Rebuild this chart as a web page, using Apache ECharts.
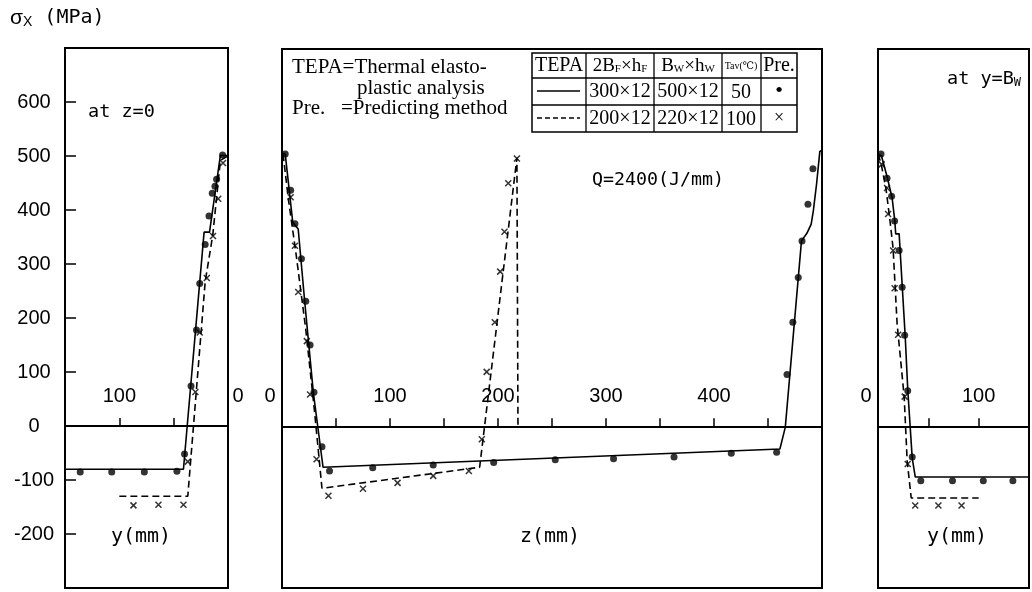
<!DOCTYPE html>
<html>
<head>
<meta charset="utf-8">
<script src="https://cdn.jsdelivr.net/npm/echarts@6/dist/echarts.min.js"></script>
<style>
html,body{margin:0;padding:0;background:#fff;}
#chart{width:1032px;height:592px;}
</style>
</head>
<body>
<div id="chart"></div>
<script>
// left panel: at z=0, y(mm) reversed
var leftTepa1 = [[150,-80],[41,-80],[22,359],[17,359],[7,501],[0,501]];
var leftTepa2 = [[100,-130],[37,-130],[21,267],[14,354],[7,492],[0,500]];
var leftPre1 = [[136,-85],[107,-85],[77,-85],[47,-84],[40,-52],[34,74],[29,178],[26,264],[21,336],[17.5,389],[14.5,431],[12,444],[10.5,457],[5,502]];
var leftPre2 = [[87,-147],[64,-146],[41,-146],[37,-66],[30,63],[26,173],[19.5,274],[13.8,352],[9,421],[4.6,487]];

// middle panel: z(mm)
var midTepa1 = [[0,507],[3,505],[10,378],[15,366],[21,232],[29,63],[38,-76],[461,-42],[466,-2],[481,344],[486,358],[490,375],[492,400],[495,450],[498,510],[500,512]];
var midTepa2 = [[1,505],[6,420],[13,320],[22,180],[30,30],[37,-115],[183,-76],[217.5,498],[218.5,498],[218.5,0]];
var midPre1 = [[3,505],[8,438],[12,376],[18,311],[22,232],[26,151],[29.6,63],[37,-38],[44,-83],[84,-77],[140,-72],[196,-67],[253,-62],[307,-60],[363,-57],[416,-50],[458,-48],[467.6,96],[473,193],[478,276],[481.5,344],[487,412],[491.6,478]];
var midPre2 = [[8,425],[12,335],[15,249],[23,158],[26,59],[32,-61],[43,-129],[75,-116],[107,-105],[140,-92],[173,-83],[185,-24],[189.5,101],[197,193],[202,287],[206,361],[209.5,451],[217.5,497]];

// right panel: at y=Bw
var rightTepa1 = [[0,505],[3.4,502],[9.3,461],[14,424],[16.7,381],[17.6,357],[21,357],[27,168],[29.6,67],[34,-59],[37,-94],[150,-94]];
var rightTepa2 = [[0,505],[3,488],[8,440],[12,380],[15,330],[19,190],[26,55],[29,-65],[33,-133],[100,-133]];
var rightPre1 = [[3,505],[9,460],[13.5,427],[16.5,381],[21,326],[24,258],[26.5,169],[29.5,66],[34,-57],[42.5,-101],[74,-101],[104.6,-101],[134,-101]];
var rightPre2 = [[3.7,486],[9,442],[10,394],[15,326],[16.5,256],[20,170],[26.5,55],[29.5,-70],[37,-147],[60,-147],[83,-147]];

var yRange = [-300, 700];
var numFont = "'Liberation Sans',sans-serif";
var monoFont = "'DejaVu Sans Mono',monospace";
var serif = "'Liberation Serif','DejaVu Serif',serif";
var cross = 'path://M0,0L10,10M10,0L0,10';

// x axis sits on sigma=0: moved up from the grid bottom with offset
function xAxis(grid, max, inverse, shown, zeroPad, off) {
  return {
    type: 'value', gridIndex: grid, min: 0, max: max, interval: 50, inverse: inverse,
    position: 'bottom', offset: off,
    axisLine: {onZero: false, lineStyle: {color: '#000', width: 2}},
    axisTick: {inside: true, length: 8, lineStyle: {color: '#000', width: 1.5}},
    splitLine: {show: false},
    axisLabel: {
      inside: true, margin: 20, color: '#000', fontSize: 20, fontFamily: numFont,
      formatter: function (v) {
        if (v === 0) return '{z|0}';
        return shown.indexOf(v) >= 0 ? String(v) : '';
      },
      rich: {z: {fontSize: 20, fontFamily: numFont, color: '#000', padding: zeroPad}}
    }
  };
}

function yAxis(grid, labels) {
  return {
    type: 'value', gridIndex: grid, min: yRange[0], max: yRange[1], interval: 100,
    position: 'left',
    axisLine: {show: false, onZero: false},
    splitLine: {show: false},
    axisTick: {show: labels, inside: true, length: 11, lineStyle: {color: '#000', width: 1.5}},
    axisLabel: {
      show: labels, align: 'center', margin: 31, color: '#000', fontSize: 20, fontFamily: numFont,
      formatter: function (v) { return (v === 700 || v === -300) ? '' : String(v); }
    }
  };
}

function lines(grid, solid, dashed, dots, crosses) {
  return [
    {type: 'line', xAxisIndex: grid, yAxisIndex: grid, data: solid, showSymbol: false,
      lineStyle: {color: '#000', width: 1.6}},
    {type: 'line', xAxisIndex: grid, yAxisIndex: grid, data: dashed, showSymbol: false,
      lineStyle: {color: '#000', width: 1.6, type: [7, 4]}},
    {type: 'scatter', xAxisIndex: grid, yAxisIndex: grid, data: dots, symbol: 'circle', symbolSize: 7,
      itemStyle: {color: '#000'}},
    {type: 'scatter', xAxisIndex: grid, yAxisIndex: grid, data: crosses, symbol: cross, symbolSize: 6,
      itemStyle: {color: 'none', borderColor: '#000', borderWidth: 1.5}}
  ];
}

function txt(x, y, text, font, size, extra) {
  var s = {text: text, x: x, y: y, fill: '#000', font: size + 'px ' + font};
  if (extra) for (var k in extra) s[k] = extra[k];
  return {type: 'text', style: s, z: 100};
}

function hline(x1, x2, y, w, dash) {
  return {type: 'line', shape: {x1: x1, y1: y, x2: x2, y2: y}, z: 100,
    style: {stroke: '#000', lineWidth: w || 1.3, lineDash: dash || null}};
}
function vline(x, y1, y2) {
  return {type: 'line', shape: {x1: x, y1: y1, x2: x, y2: y2}, z: 100, style: {stroke: '#000', lineWidth: 1.3}};
}

// legend table
var tX = [532, 586, 654, 722, 761, 797];
var tY = [53, 78, 105, 132];
var cell = {align: 'center', verticalAlign: 'middle'};
var sub = {a: {fontSize: 19, fontFamily: serif, fill: '#000'}, b: {fontSize: 11, fontFamily: serif, fill: '#000', padding: [7, 0, 0, 0]}};
var table = [
  {type: 'rect', shape: {x: tX[0], y: tY[0], width: tX[5] - tX[0], height: tY[3] - tY[0]}, z: 99,
    style: {fill: '#fff', stroke: '#000', lineWidth: 1.5}},
  hline(tX[0], tX[5], tY[1]), hline(tX[0], tX[5], tY[2]),
  vline(tX[1], tY[0], tY[3]), vline(tX[2], tY[0], tY[3]), vline(tX[3], tY[0], tY[3]), vline(tX[4], tY[0], tY[3]),
  hline(537, 580, 91, 1.6), hline(537, 580, 118, 1.6, [5, 3]),
  txt(559, 66, 'TEPA', serif, 20, cell),
  {type: 'text', z: 100, style: {x: 620, y: 66, align: 'center', verticalAlign: 'middle', text: '{a|2B}{b|F}{a|×h}{b|F}', rich: sub}},
  {type: 'text', z: 100, style: {x: 688, y: 66, align: 'center', verticalAlign: 'middle', text: '{a|B}{b|W}{a|×h}{b|W}', rich: sub}},
  txt(741, 66, 'Tav(℃)', serif, 10, cell),
  txt(779, 66, 'Pre.', serif, 20, cell),
  txt(620, 92, '300×12', serif, 20, cell),
  txt(688, 92, '500×12', serif, 20, cell),
  txt(741, 93, '50', serif, 20, cell),
  txt(779, 91, '•', serif, 22, cell),
  txt(620, 119, '200×12', serif, 20, cell),
  txt(688, 119, '220×12', serif, 20, cell),
  txt(741, 120, '100', serif, 20, cell),
  txt(779, 118, '×', serif, 18, cell)
];

var chart = echarts.init(document.getElementById('chart'), null, {renderer: 'canvas'});
var gridStyle = {show: true, borderColor: '#000', borderWidth: 2, backgroundColor: 'transparent'};
chart.setOption({
  animation: false,
  grid: [
    Object.assign({left: 65, top: 48, width: 163, height: 540}, gridStyle),
    Object.assign({left: 282, top: 49, width: 540, height: 539}, gridStyle),
    Object.assign({left: 878, top: 49, width: 164, height: 539}, gridStyle)
  ],
  xAxis: [
    xAxis(0, 150, true, [100], [0, 0, 0, 20], -162),
    xAxis(1, 500, false, [100, 200, 300, 400], [0, 24, 0, 0], -161.7),
    xAxis(2, 150, false, [100], [0, 24, 0, 0], -161.7)
  ],
  yAxis: [yAxis(0, true), yAxis(1, false), yAxis(2, false)],
  series: [].concat(
    lines(0, leftTepa1, leftTepa2, leftPre1, leftPre2),
    lines(1, midTepa1, midTepa2, midPre1, midPre2),
    lines(2, rightTepa1, rightTepa2, rightPre1, rightPre2)
  ),
  graphic: [
    {type: 'text', z: 100, style: {x: 10, y: 7, text: '{s|σ}{x|X}{t| (MPa)}',
      rich: {s: {fontSize: 21, fontFamily: numFont, fill: '#000'},
             x: {fontSize: 14, fontFamily: numFont, fill: '#000', padding: [8, 0, 0, 0]},
             t: {fontSize: 20, fontFamily: monoFont, fill: '#000'}}}},
    txt(88, 103, 'at z=0', monoFont, 18.5),
    {type: 'text', z: 100, style: {x: 947, y: 70, text: '{a|at y=B}{b|W}',
      rich: {a: {fontSize: 18.5, fontFamily: monoFont, fill: '#000'}, b: {fontSize: 12, fontFamily: monoFont, fill: '#000', padding: [7, 0, 0, 0]}}}},
    txt(592, 171, 'Q=2400(J/mm)', monoFont, 18.3),
    txt(141, 537, 'y(mm)', monoFont, 20, {align: 'center', verticalAlign: 'middle'}),
    txt(550, 537, 'z(mm)', monoFont, 20, {align: 'center', verticalAlign: 'middle'}),
    txt(957, 537, 'y(mm)', monoFont, 20, {align: 'center', verticalAlign: 'middle'}),
    txt(292, 57, 'TEPA=Thermal elasto-', serif, 21),
    txt(357, 78, 'plastic analysis', serif, 21),
    txt(292, 98, 'Pre.   =Predicting method', serif, 21)
  ].concat(table)
});
</script>
</body>
</html>
